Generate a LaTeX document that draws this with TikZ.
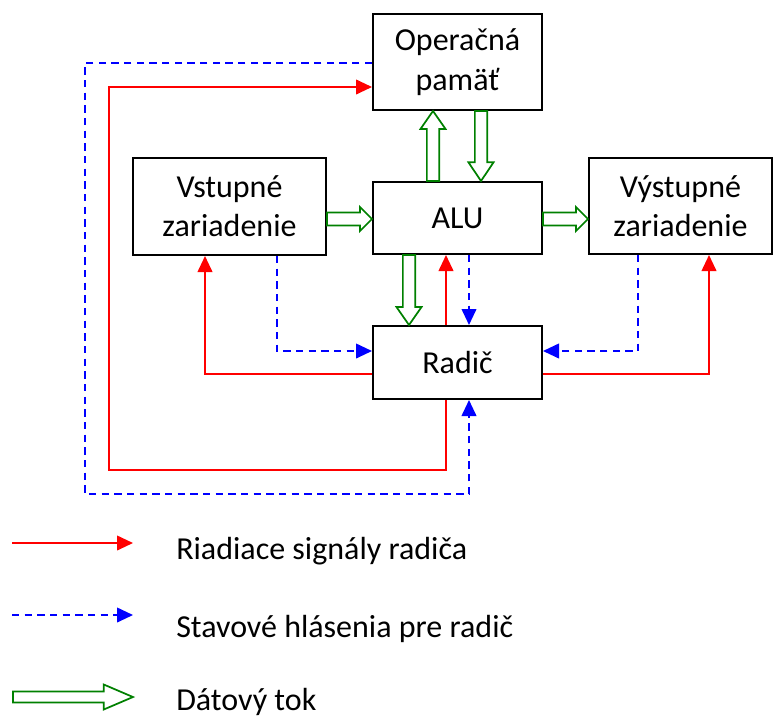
\documentclass[tikz,border=0pt]{standalone}
\usepackage{fontspec}
\setmainfont{Carlito}
\usetikzlibrary{arrows.meta,calc}
\definecolor{dgreen}{RGB}{0,128,0}
\tikzset{
  box/.style={draw=black, line width=1.5pt, fill=white, align=center, inner sep=0pt,
    font=\fontsize{24}{29.5}\selectfont},
  ctl/.style={draw=red, line width=1.4pt, -{Triangle[length=12pt,width=11pt]}},
  sts/.style={draw=blue, line width=1.4pt, dash pattern=on 5.5pt off 4pt, -{Triangle[length=12pt,width=11pt]}},
  dataflow/.style={draw=dgreen, line width=1.3pt, fill=white, line join=miter},
  lbl/.style={anchor=base west, inner sep=0pt, font=\fontsize{24}{29}\selectfont}
}
% hollow block arrow: #1 from, #2 to, #3 half shaft, #4 half head, #5 head length (all in pt)
\newcommand\hollowarrow[5]{%
  \draw[dataflow] let \p1=(#1), \p2=(#2),
      \n1={atan2(\y2-\y1,\x2-\x1)},
      \n2={veclen(\x2-\x1,\y2-\y1)} in
    [shift={(\p1)}, rotate=\n1]
    (0pt,-#3pt) -- ({\n2-#5pt},-#3pt) -- ({\n2-#5pt},-#4pt) -- (\n2,0pt)
    -- ({\n2-#5pt},#4pt) -- ({\n2-#5pt},#3pt) -- (0pt,#3pt) -- cycle;}
\begin{document}
\begin{tikzpicture}[x=0.75pt,y=-0.75pt]
\useasboundingbox (0,0) rectangle (773,718);
% boxes
\node[box, minimum width=126.75pt, minimum height=72pt] (mem) at (457.5,62) {Operačná\\pamäť};
\node[box, minimum width=126.75pt, minimum height=54pt] (alu) at (457.5,218) {ALU};
\node[box, minimum width=126.75pt, minimum height=54.75pt] (rad) at (457.5,362.5) {Radič};
\node[box, minimum width=144.75pt, minimum height=72.75pt] (vst) at (229.5,206.5) {Vstupné\\zariadenie};
\node[box, minimum width=137.25pt, minimum height=72pt] (vys) at (680.5,206) {Výstupné\\zariadenie};
% helper coordinates
\coordinate (c1) at (446,470);
\coordinate (c2) at (109,470);
\coordinate (c3) at (109,87);
\coordinate (c4) at (205,374);
\coordinate (c5) at (709,374);
\coordinate (d1) at (85,63);
\coordinate (d2) at (85,494);
\coordinate (d3) at (469,494);
\coordinate (d4) at (277,351);
\coordinate (d5) at (638,351);
\coordinate (g1) at (433,0);
\coordinate (g2) at (481,0);
\coordinate (g3) at (409,0);
\coordinate (g4) at (0,219);
% control signals (red)
\draw[ctl] (rad.south -| c1) -- (c1) -- (c2) -- (c3) -- (mem.west |- c3);
\draw[ctl] (rad.north -| c1) -- (alu.south -| c1);
\draw[ctl] (rad.west |- c4) -- (c4) -- (vst.south -| c4);
\draw[ctl] (rad.east |- c5) -- (c5) -- (vys.south -| c5);
% status (blue dashed)
\draw[sts] (mem.west |- d1) -- (d1) -- (d2) -- (d3) -- (rad.south -| d3);
\draw[sts] (alu.south -| d3) -- (rad.north -| d3);
\draw[sts] (vst.south -| d4) -- (d4) -- (rad.west |- d4);
\draw[sts] (vys.south -| d5) -- (d5) -- (rad.east |- d5);
% data flow (green hollow)
\hollowarrow{alu.north -| g1}{mem.south -| g1}{4.6}{9.4}{13.5}
\hollowarrow{mem.south -| g2}{alu.north -| g2}{4.6}{9.4}{14}
\hollowarrow{alu.south -| g3}{rad.north -| g3}{4.6}{9.4}{13.5}
\hollowarrow{vst.east |- g4}{alu.west |- g4}{4.9}{9}{9}
\hollowarrow{alu.east |- g4}{vys.west |- g4}{4.9}{9}{9}
% legend
\coordinate (l1a) at (12,543);
\coordinate (l1b) at (133,543);
\coordinate (l2a) at (12,615);
\coordinate (l2b) at (133,615);
\coordinate (l3a) at (13,697);
\coordinate (l3b) at (133,697);
\draw[ctl] (l1a) -- (l1b);
\draw[sts] (l2a) -- (l2b);
\hollowarrow{l3a}{l3b}{4.1}{9.4}{22}
\node[lbl] (t1) at (176,559) {Riadiace signály radiča};
\node[lbl] (t2) at (176,637) {Stavové hlásenia pre radič};
\node[lbl] (t3) at (176,710) {Dátový tok};
\end{tikzpicture}
\end{document}
